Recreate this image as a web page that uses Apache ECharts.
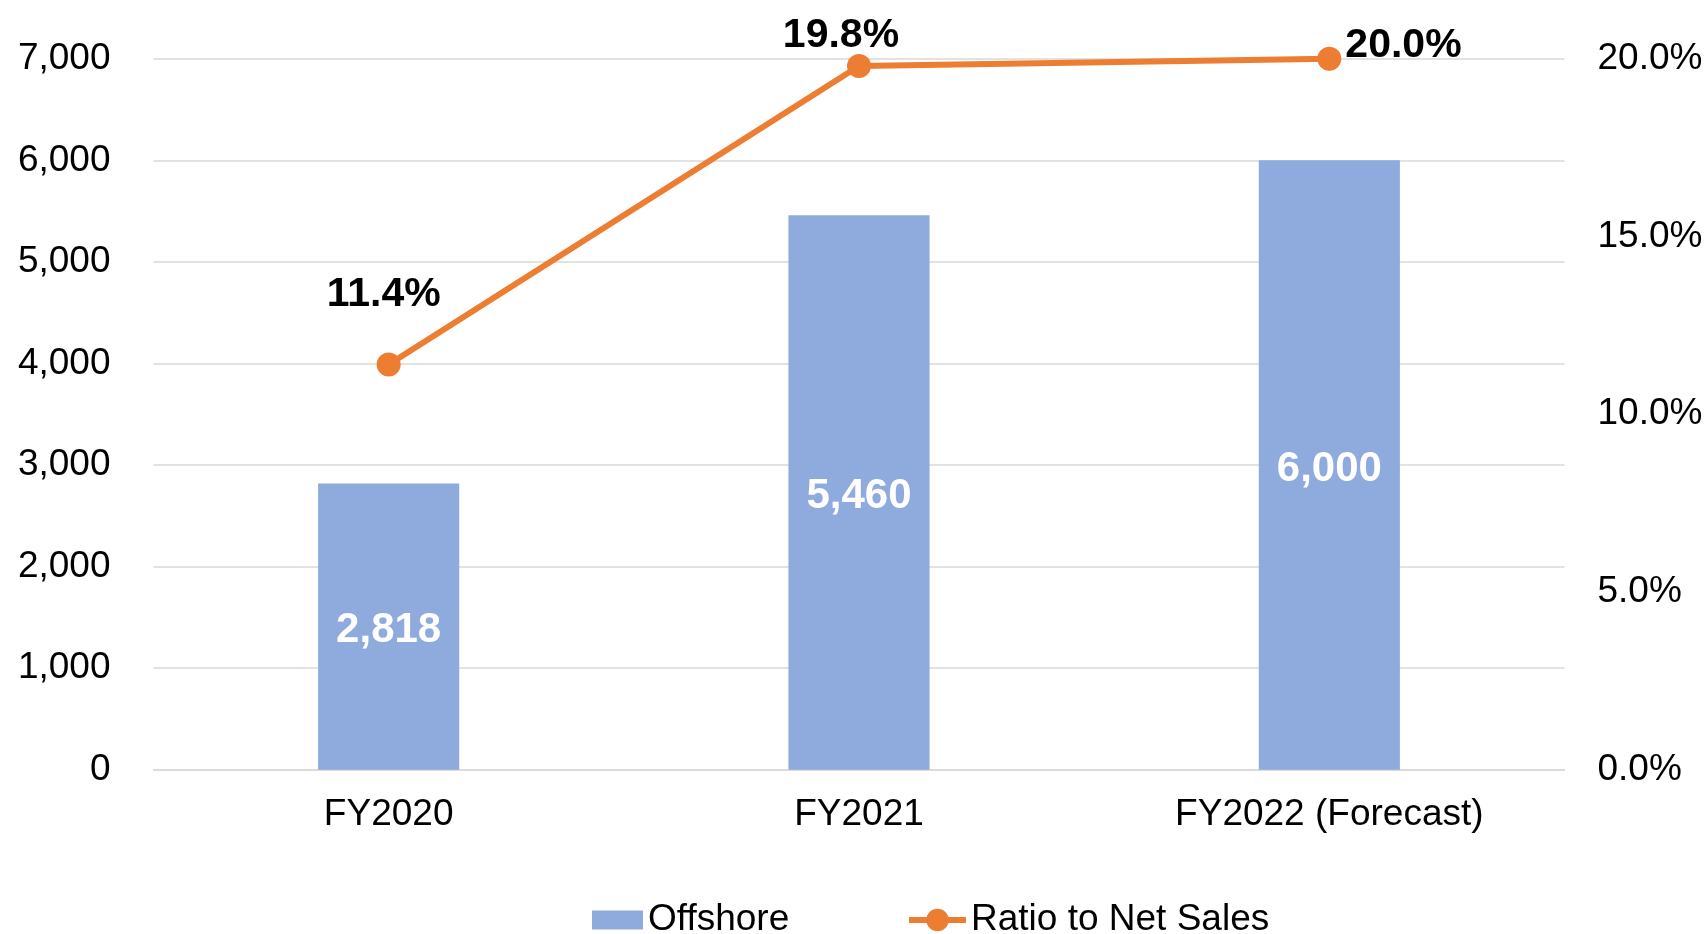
<!DOCTYPE html>
<html>
<head>
<meta charset="utf-8">
<title>Offshore</title>
<script src="https://cdn.jsdelivr.net/npm/echarts@6/dist/echarts.min.js"></script>
<style>
  html, body { margin: 0; padding: 0; background: #fff; }
  #chart { width: 1707px; height: 934px; }
</style>
</head>
<body>
<div id="chart"></div>
<script>
const categories = ['FY2020', 'FY2021', 'FY2022 (Forecast)'];
const offshore = [2818, 5460, 6000];
const ratio = [11.4, 19.8, 20.0];

const font = '"Liberation Sans", Arial, sans-serif';
const orange = '#ED7D31';

// Excel had each ratio label placed by hand, so each gets its own spot
const ratioLabels = [
  { position: 'top', distance: 40, offset: [-5, 3] },
  { position: 'top', distance: 0, offset: [-18, 2] },
  { position: 'right', distance: 4, offset: [0, -13] }
];

const chart = echarts.init(document.getElementById('chart'));

const legendText = { fontSize: 37, color: '#000', lineHeight: 40 };

chart.setOption({
  animation: false,
  textStyle: { fontFamily: font },
  grid: {
    left: 153.5,
    right: 142.5,
    top: 58.8,
    bottom: 164.3
  },
  legend: [
    {
      left: 592,
      top: 900,
      padding: 0,
      itemWidth: 51,
      itemHeight: 19,
      textStyle: legendText,
      data: [{ name: 'Offshore', icon: 'rect' }]
    },
    {
      left: 906,
      top: 900,
      padding: 0,
      itemWidth: 57,
      itemHeight: 28,
      textStyle: legendText,
      lineStyle: { width: 6, color: orange },
      data: ['Ratio to Net Sales']
    }
  ],
  xAxis: {
    type: 'category',
    data: categories,
    axisTick: { show: false },
    axisLine: { lineStyle: { color: '#D9D9D9', width: 1.5 } },
    axisLabel: { fontSize: 37, color: '#000', margin: 27 }
  },
  yAxis: [
    {
      type: 'value',
      min: 0,
      max: 7000,
      interval: 1000,
      axisLine: { show: false },
      axisTick: { show: false },
      splitLine: { lineStyle: { color: '#D9D9D9', width: 1.5 } },
      axisLabel: {
        fontSize: 37,
        color: '#000',
        margin: 43,
        padding: [8, 0, 0, 0],
        formatter: v => v.toLocaleString('en-US')
      }
    },
    {
      type: 'value',
      min: 0,
      max: 20,
      interval: 5,
      axisLine: { show: false },
      axisTick: { show: false },
      splitLine: { show: false },
      axisLabel: {
        fontSize: 37,
        color: '#000',
        margin: 33,
        padding: [8, 0, 0, 0],
        formatter: v => v.toFixed(1) + '%'
      }
    }
  ],
  series: [
    {
      name: 'Offshore',
      type: 'bar',
      data: offshore,
      barWidth: '30%',
      itemStyle: { color: '#8FAADC' },
      label: {
        show: true,
        position: 'inside',
        offset: [0, 4],
        color: '#fff',
        fontSize: 42,
        fontWeight: 'bold',
        formatter: p => p.value.toLocaleString('en-US')
      }
    },
    {
      name: 'Ratio to Net Sales',
      type: 'line',
      yAxisIndex: 1,
      data: ratio.map((v, i) => ({ value: v, label: ratioLabels[i] })),
      symbol: 'circle',
      symbolSize: 24,
      lineStyle: { color: orange, width: 6 },
      itemStyle: { color: orange },
      label: {
        show: true,
        color: '#000',
        fontSize: 41,
        fontWeight: 'bold',
        formatter: p => p.value.toFixed(1) + '%'
      }
    }
  ]
});
</script>
</body>
</html>
